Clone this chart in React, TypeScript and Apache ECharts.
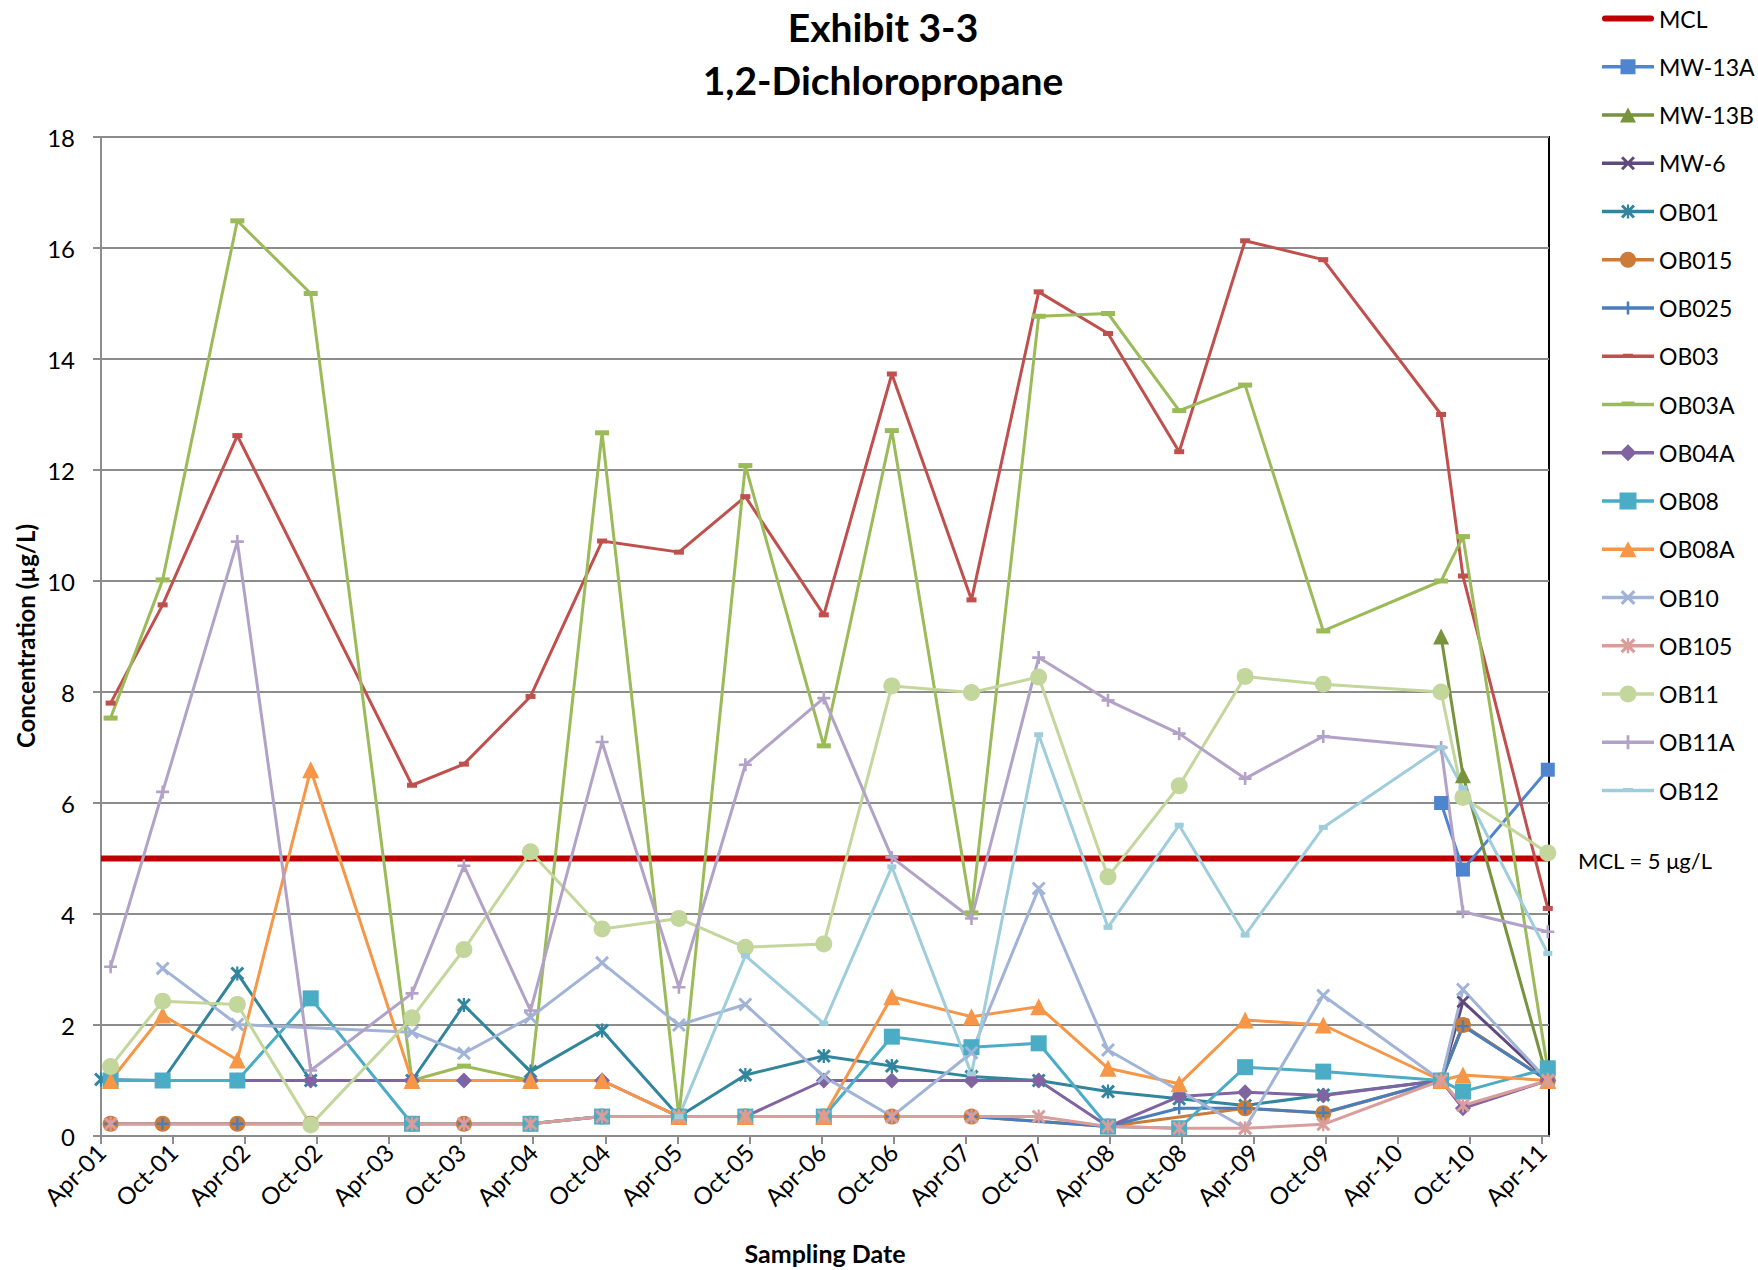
import React, { useEffect, useRef } from 'react';
import * as echarts from 'echarts';

// Sampling dates (event columns E0..E21)
const DATES = [
  '2001-04-01', '2001-04-25', '2001-09-05', '2002-03-12', '2002-09-15', '2003-05-29',
  '2003-10-08', '2004-03-25', '2004-09-23', '2005-04-05', '2005-09-21', '2006-04-07',
  '2006-09-27', '2007-04-16', '2007-10-04', '2008-03-28', '2008-09-25', '2009-03-10',
  '2009-09-25', '2010-07-20', '2010-09-14', '2011-04-16',
];
const AXIS_START = '2001-04-01';
const AXIS_END = '2011-04-19';
const TICK_LABELS = [
  'Apr-01', 'Oct-01', 'Apr-02', 'Oct-02', 'Apr-03', 'Oct-03', 'Apr-04', 'Oct-04', 'Apr-05',
  'Oct-05', 'Apr-06', 'Oct-06', 'Apr-07', 'Oct-07', 'Apr-08', 'Oct-08', 'Apr-09', 'Oct-09',
  'Apr-10', 'Oct-10', 'Apr-11',
];
const Y_TICKS = [0, 2, 4, 6, 8, 10, 12, 14, 16, 18];
const MCL_VALUE = 5;

const N = null;
const MW13A = [N, N, N, N, N, N, N, N, N, N, N, N, N, N, N, N, N, N, N, 6.0, 4.8, 6.6];
const MW13B = [N, N, N, N, N, N, N, N, N, N, N, N, N, N, N, N, N, N, N, 9.0, 6.5, 1.0];
const MW6 = [N, N, N, N, N, N, N, N, N, N, N, N, N, N, N, N, N, N, N, 1.0, 2.42, 1.0];
const OB01 = [1.02, N, 1.0, 2.93, 1.0, 1.0, 2.36, 1.16, 1.9, 0.35, 1.1, 1.44, 1.26, 1.07, 1.0, 0.8, 0.67, 0.55, 0.74, 1.0, 2.0, 1.0];
const OB015 = [N, 0.22, 0.22, 0.22, 0.22, 0.22, 0.22, 0.22, 0.35, 0.35, 0.35, 0.35, 0.35, 0.35, N, 0.17, N, 0.5, 0.41, 1.0, 2.0, 1.0];
const OB025 = [N, 0.22, 0.22, 0.22, 0.22, 0.22, 0.22, 0.22, 0.35, 0.35, 0.35, 0.35, 0.35, 0.35, N, 0.17, 0.5, 0.5, 0.42, 1.0, 1.98, 1.0];
const OB03 = [N, 7.8, 9.57, 12.62, N, 6.32, 6.7, 7.92, 10.72, 10.52, 11.52, 9.39, 13.73, 9.66, 15.21, 14.46, 12.33, 16.13, 15.79, 13.0, 10.09, 4.1];
const OB03A = [N, 7.53, 10.02, 16.49, 15.18, 1.0, 1.26, 1.0, 12.67, 0.35, 12.08, 7.03, 12.71, 4.02, 14.77, 14.82, 13.07, 13.53, 9.1, 10.0, 10.8, 1.2];
const OB04A = [N, N, N, 1.0, 1.0, 1.0, 1.0, 1.0, 1.0, 0.35, 0.35, 1.0, 1.0, 1.0, 1.0, 0.17, 0.71, 0.79, 0.73, 1.0, 0.5, 1.0];
const OB08 = [N, 1.0, 1.0, 1.0, 2.48, 0.22, N, 0.22, 0.35, 0.35, 0.35, 0.35, 1.79, 1.6, 1.67, 0.17, 0.14, 1.24, 1.16, 1.0, 0.8, 1.22];
const OB08A = [N, 1.0, 2.18, 1.37, 6.6, 1.0, N, 1.0, 1.0, 0.35, 0.35, 0.35, 2.51, 2.15, 2.33, 1.22, 0.94, 2.09, 2.0, 1.0, 1.1, 1.0];
const OB10 = [N, N, 3.02, 2.01, N, 1.87, 1.49, 2.14, 3.12, 2.0, 2.37, 1.07, 0.35, 1.5, 4.46, 1.55, N, 0.14, 2.53, 1.0, 2.64, 1.0];
const OB105 = [N, 0.22, N, N, N, 0.22, 0.22, 0.22, 0.35, 0.35, 0.35, 0.35, 0.35, 0.35, 0.35, 0.17, 0.14, 0.14, 0.21, 1.0, 0.55, 1.0];
const OB11 = [N, 1.25, 2.43, 2.37, 0.2, 2.13, 3.36, 5.12, 3.73, 3.92, 3.4, 3.46, 8.11, 7.99, 8.27, 4.67, 6.31, 8.28, 8.14, 8.0, 6.1, 5.1];
const OB11A = [N, 3.05, 6.2, 10.71, 1.18, 2.57, 4.87, 2.26, 7.1, 2.68, 6.69, 7.89, 5.02, 3.92, 8.62, 7.85, 7.25, 6.44, 7.2, 7.0, 4.04, 3.68];
const OB12 = [N, N, N, N, N, N, N, N, N, 0.35, 3.25, 2.03, 4.85, 1.12, 7.23, 3.76, 5.6, 3.62, 5.56, 7.0, 6.27, 3.29];

// marker outlines in a 10x10 box (polygons, all clockwise on screen)
const X_POLYS = [
  [[0, 1.5], [1.5, 0], [10, 8.5], [8.5, 10]],
  [[8.5, 0], [10, 1.5], [1.5, 10], [0, 8.5]],
];
const PLUS_POLYS = [[[4, 0], [6, 0], [6, 4], [10, 4], [10, 6], [6, 6], [6, 10], [4, 10], [4, 6], [0, 6], [0, 4], [4, 4]]];
const STAR_POLYS = [...X_POLYS, [[4.2, 0], [5.8, 0], [5.8, 10], [4.2, 10]]];
const DASH_POLYS = [[[0, 0], [10, 0], [10, 4], [0, 4]]];
const SQUARE_POLYS = [[[0, 0], [10, 0], [10, 10], [0, 10]]];
const TRI_POLYS = [[[5, 0], [10, 10], [0, 10]]];
const DIAMOND_POLYS = [[[5, 0], [10, 5], [5, 10], [0, 5]]];

function polysPath(polys: number[][][], cx: number, cy: number, w: number, h: number): string {
  return polys
    .map((poly) => 'M' + poly.map(([x, y]) => `${(cx - w / 2 + (x * w) / 10).toFixed(2)},${(cy - h / 2 + (y * h) / 10).toFixed(2)}`).join('L') + 'Z')
    .join('');
}
function circlePath(cx: number, cy: number, r: number): string {
  return `M${cx - r},${cy}A${r},${r} 0 1,1 ${cx + r},${cy}A${r},${r} 0 1,1 ${cx - r},${cy}Z`;
}

const FONT = 'Lato, "Open Sans", sans-serif';
const LEG_W = 52;
const LEG_H = 20;

type MarkerKind = 'square' | 'triangle' | 'diamond' | 'circle' | 'x' | 'plus' | 'star' | 'dash';
const POLYS: Record<string, number[][][]> = {
  square: SQUARE_POLYS, triangle: TRI_POLYS, diamond: DIAMOND_POLYS,
  x: X_POLYS, plus: PLUS_POLYS, star: STAR_POLYS, dash: DASH_POLYS,
};

function seriesSymbol(kind: MarkerKind): string {
  if (kind === 'circle') return 'circle';
  if (kind === 'square') return 'rect';
  if (kind === 'triangle') return 'triangle';
  if (kind === 'diamond') return 'diamond';
  return 'path://' + polysPath(POLYS[kind], 5, 5, 10, 10);
}

// legend icon: full-width line with the marker in the middle; a frame-less path
// whose bounding box is exactly LEG_W x LEG_H so that it is drawn 1:1
function legendIcon(kind: MarkerKind, w: number, h: number, lineW = 3.5): string {
  const cy = LEG_H / 2;
  const cx = LEG_W / 2;
  let p = `M0,${cy - lineW / 2}H${LEG_W}V${cy + lineW / 2}H0Z`;
  if (kind === 'circle') p += circlePath(cx, cy, w / 2);
  else p += polysPath(POLYS[kind], cx, cy, w, h);
  // invisible zero-area anchors at the corners of the box to pin the bounding box
  p += `M0,0L0.01,0L0,0.01ZM${LEG_W},${LEG_H}L${LEG_W - 0.01},${LEG_H}L${LEG_W},${LEG_H - 0.01}Z`;
  return 'path://' + p;
}

function toMonths(d: string): number {
  const [y, m, day] = d.split('-').map(Number);
  const dim = new Date(y, m, 0).getDate();
  return (y - 2001) * 12 + (m - 4) + (day - 1) / dim;
}

type SDef = { name: string; color: string; kind: MarkerKind; size: number[]; legSize: number[]; values: (number | null)[] };

const SERIES: SDef[] = [
  { name: 'MW-13A', color: '#4f85cf', kind: 'square', size: [14, 14], legSize: [15, 15], values: MW13A },
  { name: 'MW-13B', color: '#77933c', kind: 'triangle', size: [16, 16], legSize: [16, 15], values: MW13B },
  { name: 'MW-6', color: '#604a7b', kind: 'x', size: [13, 13], legSize: [14, 14], values: MW6 },
  { name: 'OB01', color: '#31859c', kind: 'star', size: [14, 14], legSize: [14, 14], values: OB01 },
  { name: 'OB015', color: '#cc7b38', kind: 'circle', size: [16, 16], legSize: [16, 16], values: OB015 },
  { name: 'OB025', color: '#4a7ebb', kind: 'plus', size: [12, 12], legSize: [13, 13], values: OB025 },
  { name: 'OB03', color: '#c0504d', kind: 'dash', size: [10, 5], legSize: [10, 5], values: OB03 },
  { name: 'OB03A', color: '#9bbb59', kind: 'dash', size: [14, 5], legSize: [13, 6], values: OB03A },
  { name: 'OB04A', color: '#8064a2', kind: 'diamond', size: [16, 16], legSize: [17, 17], values: OB04A },
  { name: 'OB08', color: '#4bacc6', kind: 'square', size: [16, 16], legSize: [17, 17], values: OB08 },
  { name: 'OB08A', color: '#f79646', kind: 'triangle', size: [17, 17], legSize: [17, 16], values: OB08A },
  { name: 'OB10', color: '#a1b4d8', kind: 'x', size: [14, 14], legSize: [15, 15], values: OB10 },
  { name: 'OB105', color: '#d99d9b', kind: 'star', size: [14, 14], legSize: [15, 15], values: OB105 },
  { name: 'OB11', color: '#c3d69b', kind: 'circle', size: [17, 17], legSize: [17, 17], values: OB11 },
  { name: 'OB11A', color: '#b3a2c7', kind: 'plus', size: [13, 13], legSize: [14, 14], values: OB11A },
  { name: 'OB12', color: '#9fcddb', kind: 'dash', size: [9, 5], legSize: [10, 5], values: OB12 },
];

export default function App() {
  const ref = useRef<HTMLDivElement>(null);
  useEffect(() => {
    document.body.style.margin = '0';
    document.body.style.overflow = 'hidden';
    if (!ref.current) return;
    const chart = echarts.init(ref.current, null, { renderer: 'svg' });
    const xMin = toMonths(AXIS_START);
    const xMax = toMonths(AXIS_END);
    const xTicks = TICK_LABELS.map((_, i) => i * 6);

    const series: any[] = [
      {
        name: 'MCL',
        type: 'line',
        data: [[xMin, MCL_VALUE], [xMax, MCL_VALUE]],
        symbol: 'none',
        lineStyle: { color: '#c00000', width: 6 },
        itemStyle: { color: '#c00000' },
        silent: true,
      },
      ...SERIES.map((s) => ({
        name: s.name,
        type: 'line',
        data: DATES.map((d, i) => (s.values[i] == null ? null : [toMonths(d), s.values[i]])).filter((p) => p !== null),
        symbol: seriesSymbol(s.kind),
        symbolSize: s.size,
        showAllSymbol: true,
        clip: false,
        lineStyle: { color: s.color, width: 3 },
        itemStyle: { color: s.color, borderWidth: 0 },
      })),
    ];

    const cy = LEG_H / 2;
    const mclIcon =
      `path://M3,${cy - 3}H${LEG_W - 3}A3,3 0 0,1 ${LEG_W - 3},${cy + 3}H3A3,3 0 0,1 3,${cy - 3}Z` +
      `M0,0L0.01,0L0,0.01ZM${LEG_W},${LEG_H}L${LEG_W - 0.01},${LEG_H}L${LEG_W},${LEG_H - 0.01}Z`;

    chart.setOption({
      animation: false,
      textStyle: { fontFamily: FONT },
      grid: {
        left: 101, right: 209, top: 137, bottom: 134,
        show: true, borderColor: '#000', borderWidth: 2,
        containLabel: false, outerBoundsMode: 'none',
      },
      legend: {
        orient: 'vertical',
        left: 1597,
        top: 2,
        itemWidth: LEG_W,
        itemHeight: LEG_H,
        itemGap: 25.25,
        symbolKeepAspect: true,
        textStyle: { fontSize: 23, color: '#000', fontFamily: FONT },
        data: [
          { name: 'MCL', icon: mclIcon, itemStyle: { color: '#c00000' } },
          ...SERIES.map((s) => ({ name: s.name, icon: legendIcon(s.kind, s.legSize[0], s.legSize[1]), itemStyle: { color: s.color } })),
        ],
      },
      xAxis: {
        type: 'value',
        min: xMin,
        max: xMax,
        interval: 6,
        splitLine: { show: false },
        axisLine: { show: true, lineStyle: { color: '#8c8c8c', width: 2 } },
        axisTick: { show: true, inside: false, length: 8, lineStyle: { color: '#8c8c8c', width: 2 }, customValues: xTicks },
        axisLabel: {
          customValues: xTicks,
          rotate: 45,
          fontSize: 24,
          color: '#000',
          margin: 12,
          fontFamily: FONT,
          formatter: (v: number) => TICK_LABELS[Math.round(v / 6)] ?? '',
        },
      },
      yAxis: {
        type: 'value',
        min: Y_TICKS[0],
        max: Y_TICKS[Y_TICKS.length - 1],
        interval: 2,
        splitLine: { show: true, lineStyle: { color: '#8c8c8c', width: 2 } },
        axisLine: { show: true, lineStyle: { color: '#8c8c8c', width: 2 } },
        axisTick: { show: true, inside: false, length: 8, lineStyle: { color: '#8c8c8c', width: 2 } },
        axisLabel: { fontSize: 24, color: '#000', margin: 26, fontFamily: FONT },
      },
      graphic: [
        { type: 'text', x: 883, y: 27, style: { text: 'Exhibit 3-3', font: `bold 39px ${FONT}`, fill: '#000', textAlign: 'center', textVerticalAlign: 'middle' } },
        { type: 'text', x: 883, y: 80, style: { text: '1,2-Dichloropropane', font: `bold 39px ${FONT}`, fill: '#000', textAlign: 'center', textVerticalAlign: 'middle' } },
        { type: 'text', x: 825, y: 1253, style: { text: 'Sampling Date', font: `bold 25px ${FONT}`, fill: '#000', textAlign: 'center', textVerticalAlign: 'middle' } },
        { type: 'text', x: 25, y: 636, rotation: Math.PI / 2, style: { text: 'Concentration (µg/L)', font: `bold 24px ${FONT}`, fill: '#000', textAlign: 'center', textVerticalAlign: 'middle' } },
        { type: 'text', x: 1578, y: 860, style: { text: 'MCL = 5 μg/L', font: `22px ${FONT}`, fill: '#000', textAlign: 'left', textVerticalAlign: 'middle' } },
      ],
      series,
    });
    return () => chart.dispose();
  }, []);
  return <div ref={ref} style={{ width: 1758, height: 1270 }} />;
}
